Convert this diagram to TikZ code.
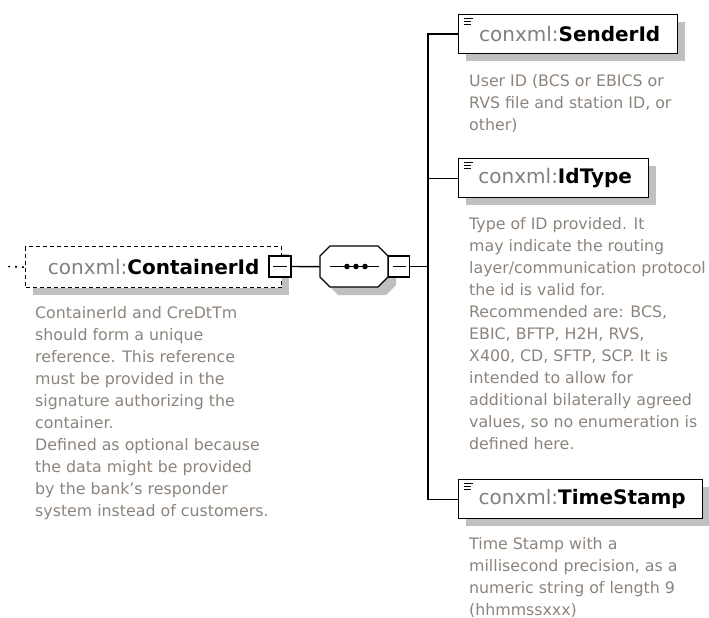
\documentclass[tikz,border=0pt]{standalone}
\usepackage{fontspec}
\setmainfont{DejaVu Sans}
\definecolor{desctext}{RGB}{140,132,124}
\definecolor{preftext}{RGB}{128,128,128}
\definecolor{shadegray}{RGB}{192,192,192}
\begin{document}
\begin{tikzpicture}[x=1pt,y=-1pt,
  conn/.style={draw=black, line width=1.4pt},
  elembox/.style={draw=black, line width=1.4pt, fill=white, rectangle, inner sep=0pt,
    anchor=north west, minimum height=39pt,
    font=\fontsize{20}{24}\selectfont,
    path picture={
      \draw[line width=1pt] ([xshift=5pt,yshift=-4pt]path picture bounding box.north west) -- ++(9pt,0pt);
      \draw[line width=1pt] ([xshift=5pt,yshift=-6.7pt]path picture bounding box.north west) -- ++(7pt,0pt);
      \draw[line width=1pt] ([xshift=5pt,yshift=-9.4pt]path picture bounding box.north west) -- ++(7pt,0pt);
    }},
  optbox/.style={draw=black, line width=1.4pt, dash pattern=on 4pt off 3pt, fill=white,
    rectangle, inner sep=0pt, anchor=north west, minimum height=41pt,
    font=\fontsize{20}{24}\selectfont},
  minusbox/.style={draw=black, line width=1.3pt, fill=white, rectangle, inner sep=0pt,
    minimum width=21pt, minimum height=21pt,
    path picture={\draw[line width=1.1pt] ([xshift=4pt]path picture bounding box.west) -- ([xshift=-4pt]path picture bounding box.east);}},
  desc/.style={anchor=north west, inner sep=0pt, align=left, text=desctext,
    font=\fontsize{15.8}{22}\selectfont},
  shadow/.style={fill=shadegray, draw=none}
]
\useasboundingbox (0,0) rectangle (709,618);

% shadows
\fill[shadow] (466,22) rectangle (685,61);
\fill[shadow] (466,166) rectangle (656,205);
\fill[shadow] (466,487) rectangle (710,526);
\fill[shadow] (33,254) rectangle (289,295);
\fill[shadow] (338,254) -- (386,254) -- (396,264) -- (396,285) -- (386,295) -- (338,295) -- (328,285) -- (328,264) -- cycle;

% container element
\node[optbox, minimum width=256pt] (cont) at (25,246) {\textcolor{preftext}{conxml:}\textbf{ContainerId}};
\coordinate (dotstart) at (8,266.5);
\draw[line width=1.4pt, dash pattern=on 2pt off 5pt] (dotstart) -- (cont.west);
\node[minusbox, minimum width=22pt] (cmin) at (280,266.5) {};

% sequence compositor
\node[rectangle, inner sep=0pt, minimum width=68pt, minimum height=41pt, anchor=north west] (seq) at (320,246) {};
\draw[line width=1.4pt, fill=white] (330,246) -- (378,246) -- (388,256) -- (388,277) -- (378,287) -- (330,287) -- (320,277) -- (320,256) -- cycle;
\draw[line width=1.4pt] (330,266.5) -- (379,266.5);
\fill (347,266.5) circle (2.8pt) (356,266.5) circle (2.8pt) (365,266.5) circle (2.8pt);
\node[minusbox] (smin) at (399,266.5) {};
\coordinate (bus) at (428,266.5);

% child elements
\node[elembox, minimum width=219pt] (sender) at (458,14) {\hspace*{3pt}\textcolor{preftext}{conxml:}\textbf{SenderId}};
\node[elembox, minimum width=190pt] (idtype) at (458,158) {\hspace*{3pt}\textcolor{preftext}{conxml:}\textbf{IdType}};
\node[elembox, minimum width=244pt] (tstamp) at (458,479) {\hspace*{3pt}\textcolor{preftext}{conxml:}\textbf{TimeStamp}};

% connectors
\draw[conn] (cmin.east) -- (seq.west);
\draw[conn] (smin.east) -- (bus);
\draw[conn] (sender.west) -| (bus);
\draw[conn] (idtype.west) -| (bus);
\draw[conn] (tstamp.west) -| (bus);

% descriptions
\node[desc] (d1) at (469,74) {User ID (BCS or EBICS or\\RVS file and station ID, or\\other)};
\node[desc] (d2) at (469,217) {Type of ID provided. It\\may indicate the routing\\layer/communication protocol\\the id is valid for.\\Recommended are: BCS,\\EBIC, BFTP, H2H, RVS,\\X400, CD, SFTP, SCP. It is\\intended to allow for\\additional bilaterally agreed\\values, so no enumeration is\\defined here.};
\node[desc] (d3) at (469,537) {Time Stamp with a\\millisecond precision, as a\\numeric string of length 9\\(hhmmssxxx)};
\node[desc] (d4) at (35,306) {ContainerId and CreDtTm\\should form a unique\\reference. This reference\\must be provided in the\\signature authorizing the\\container.\\Defined as optional because\\the data might be provided\\by the bank's responder\\system instead of customers.};
\end{tikzpicture}
\end{document}
